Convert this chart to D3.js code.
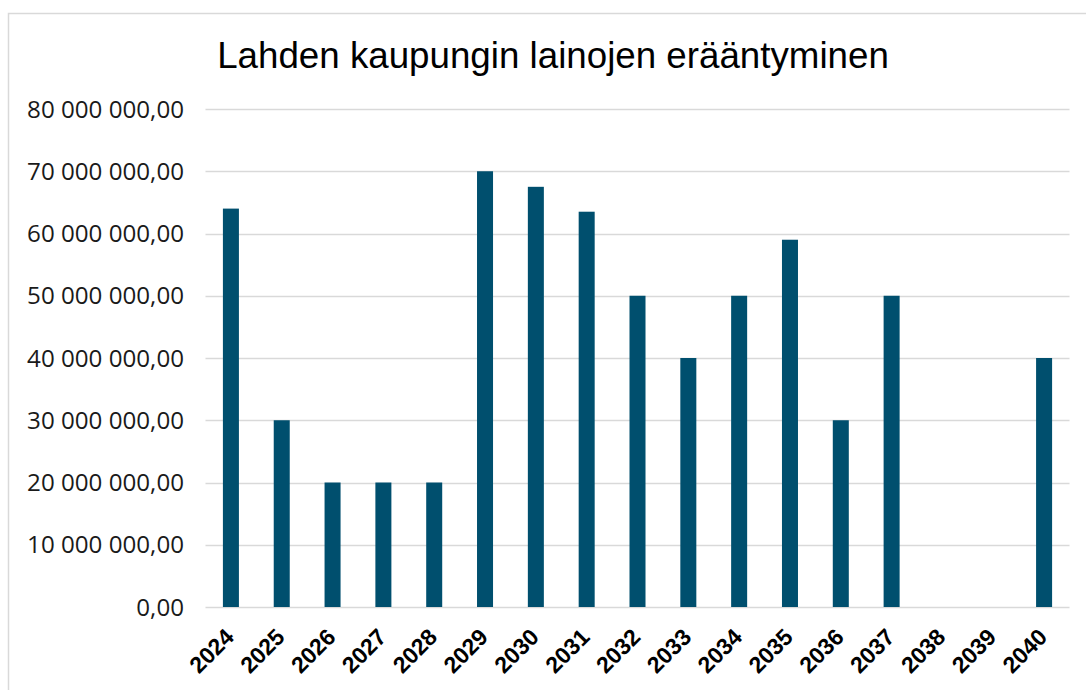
<!DOCTYPE html>
<html><head><meta charset="utf-8">
<script src="https://cdn.jsdelivr.net/npm/d3@7"></script>
<style>body{margin:0;background:#fff}svg{display:block}</style>
</head><body>
<svg id="c" width="1086" height="690"></svg>
<script>
const title = "Lahden kaupungin lainojen erääntyminen";
const years = ["2024","2025","2026","2027","2028","2029","2030","2031","2032","2033","2034","2035","2036","2037","2038","2039","2040"];
const values = [64000000,30000000,20000000,20000000,20000000,70000000,67500000,63500000,50000000,40000000,50000000,59000000,30000000,50000000,0,0,40000000];
const yTicks = [0,10000000,20000000,30000000,40000000,50000000,60000000,70000000,80000000];

(function(){
const svg = d3.select("#c");
svg.append("rect").attr("x",8.5).attr("y",13.5).attr("width",1090).attr("height",700)
  .attr("fill","#fff").attr("stroke","#d9d9d9").attr("stroke-width",1.5);

const pL=205.5, pR=1069.5, pT=109, pB=607;
const x = d3.scaleBand().domain(years).range([pL,pR]).paddingInner(0.685).paddingOuter(0.3425);
const y = d3.scaleLinear().domain([0,80000000]).range([pB,pT]);

const fmt = v => d3.format(",.2f")(v).replace(/,/g," ").replace(".",",");

svg.append("g").selectAll("line").data(yTicks).join("line")
  .attr("x1",pL).attr("x2",pR)
  .attr("y1",d=>Math.round(y(d))+0.5).attr("y2",d=>Math.round(y(d))+0.5)
  .attr("stroke","#d9d9d9").attr("stroke-width",1.5);

const yl = svg.append("g").selectAll("text").data(yTicks).join("text")
  .attr("x",184).attr("y",d=>y(d)).attr("dy","0.36em")
  .attr("text-anchor","end").attr("font-family","Open Sans, sans-serif").attr("font-size",24)
  .attr("fill","#1a1a1a").text(fmt);
const w80 = yl.nodes()[8].getComputedTextLength();
yl.attr("font-size", 24*157/w80);

svg.append("g").selectAll("rect").data(values).join("rect")
  .attr("x",(d,i)=>x(years[i])).attr("width",x.bandwidth())
  .attr("y",d=>y(d)).attr("height",d=>y(0)-y(d))
  .attr("fill","#004f6e");

svg.append("g").selectAll("text").data(years).join("text")
  .attr("transform",d=>`translate(${x(d)+x.bandwidth()/2-7},${pB+20}) rotate(-45)`)
  .attr("text-anchor","end").attr("dy","0.7em")
  .attr("font-family","Liberation Sans, Arial, sans-serif").attr("font-weight","bold").attr("font-size",23)
  .attr("fill","#000").text(d=>d);

const t = svg.append("text").attr("x",553).attr("y",68).attr("text-anchor","middle")
  .attr("font-family","Liberation Sans, Arial, sans-serif").attr("font-size",36).attr("fill","#000").text(title);
const tw = t.node().getComputedTextLength();
t.attr("font-size", 36*672/tw);
})();
</script>
</body></html>
